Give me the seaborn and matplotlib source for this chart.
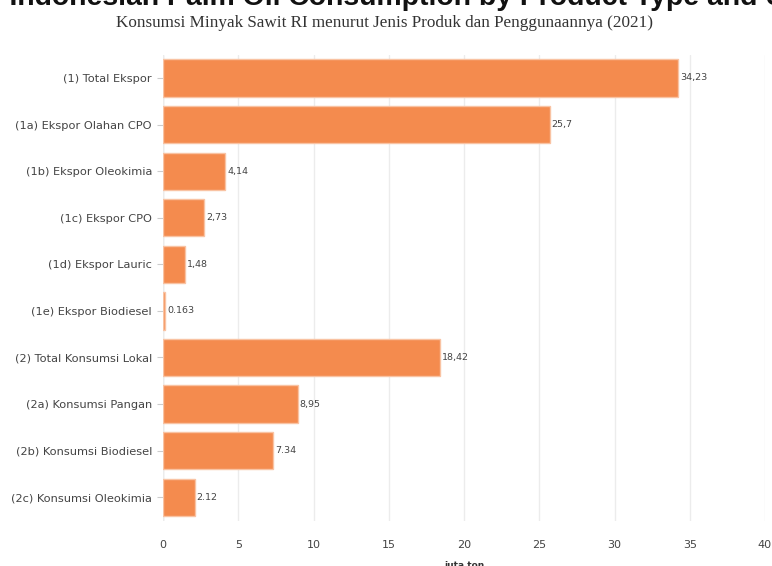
import matplotlib
matplotlib.use("Agg")
import matplotlib.pyplot as plt
import seaborn as sns
import pandas as pd

categories = [
    "(1) Total Ekspor",
    "(1a) Ekspor Olahan CPO",
    "(1b) Ekspor Oleokimia",
    "(1c) Ekspor CPO",
    "(1d) Ekspor Lauric",
    "(1e) Ekspor Biodiesel",
    "(2) Total Konsumsi Lokal",
    "(2a) Konsumsi Pangan",
    "(2b) Konsumsi Biodiesel",
    "(2c) Konsumsi Oleokimia",
]
values = [34.23, 25.7, 4.14, 2.73, 1.48, 0.163, 18.42, 8.95, 7.34, 2.12]
value_labels = ["34,23", "25,7", "4,14", "2,73", "1,48", "0.163", "18,42", "8,95", "7.34", "2.12"]
x_ticks = [0, 5, 10, 15, 20, 25, 30, 35, 40]
title_prefix = "1. "
title_main = "Indonesian Palm Oil Consumption by Product Type and Usage"
subtitle = "Konsumsi Minyak Sawit RI menurut Jenis Produk dan Penggunaannya (2021)"

df = pd.DataFrame({"kategori": categories, "nilai": values})

sns.set_theme(style="white")
plt.rcParams["font.family"] = ["DejaVu Sans"]

W, H = 772, 566
fig = plt.figure(figsize=(W / 100, H / 100), dpi=100)
ax = fig.add_axes([163 / W, 1 - 520.5 / H, (765 - 163) / W, (520.5 - 54.7) / H])

sns.barplot(data=df, y="kategori", x="nilai", order=categories, color="#f48b4e",
            edgecolor="#f9c3a3", linewidth=1.0, width=0.8, saturation=1, ax=ax)

ax.set_xlim(0, 40)
ax.set_ylim(len(categories) - 0.5, -0.5)
ax.set_xticks(x_ticks)
ax.set_xticklabels([str(t) for t in x_ticks], fontsize=8, color="#444444")
ax.tick_params(axis="x", length=0, pad=14)
ax.tick_params(axis="y", length=4, width=0.8, color="#cccccc", pad=4, left=True)
for lab in ax.get_yticklabels():
    lab.set_fontsize(8.2)
    lab.set_color("#444444")
ax.xaxis.grid(True, color="#ececec", linewidth=1)
ax.set_axisbelow(True)
for s in ax.spines.values():
    s.set_visible(False)
ax.axvline(0, color="#e0e0e0", linewidth=1, zorder=0)

ax.set_ylabel("")
ax.set_xlabel("juta ton", fontsize=6.5, fontweight="bold", color="#333333", labelpad=8)

for i, (v, lab) in enumerate(zip(values, value_labels)):
    ax.text(v + 0.12, i, lab, va="center", ha="left", fontsize=6.8, color="#444444")

# title: measure prefix width so that the main words start near x=9px
title_kw = dict(fontsize=20.4, fontweight="bold", family=["Liberation Sans", "DejaVu Sans"])
renderer = fig.canvas.get_renderer()
tmp = fig.text(0, 0, title_prefix.strip() + " I", **title_kw)
w_full = tmp.get_window_extent(renderer).width
tmp.set_text("I")
w_i = tmp.get_window_extent(renderer).width
tmp.remove()
pre_w = w_full - w_i
fig.text((9 - pre_w) / W, 1 - 5 / H, title_prefix + title_main,
         ha="left", va="baseline", color="#111111", **title_kw)
fig.text(385 / W, 1 - 23 / H, subtitle,
         ha="center", va="center", fontsize=12.3, family=["Liberation Serif", "DejaVu Serif"],
         color="#333333")

fig.savefig("out.png", dpi=100, facecolor="white")
